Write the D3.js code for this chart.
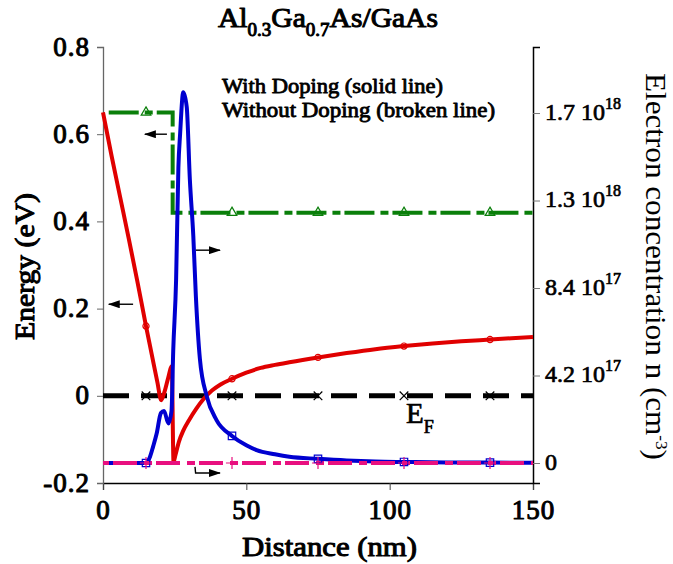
<!DOCTYPE html>
<html>
<head>
<meta charset="utf-8">
<script src="https://cdn.jsdelivr.net/npm/d3@7"></script>
<style>
  body { margin: 0; background: #fff; }
</style>
</head>
<body>
<svg id="chart" width="673" height="564" font-family="'Liberation Serif', serif"></svg>
<script>
// distance (nm) and values
const dopedX = [0, 3, 6, 9, 12, 15, 17, 19, 20.3, 21.5, 22.7, 24.0, 24.6, 25.3, 26.5, 28, 30, 32.5, 35, 38, 41, 45, 50, 55, 60, 65, 75, 85, 95, 105, 115, 125, 135, 150];
const dopedE = [0.65, 0.55, 0.455, 0.36, 0.262, 0.16, 0.095, 0.03, -0.01, 0.01, 0.04, 0.068, -0.152, -0.135, -0.105, -0.08, -0.056, -0.03, -0.008, 0.012, 0.026, 0.039, 0.053, 0.064, 0.071, 0.077, 0.088, 0.098, 0.107, 0.114, 0.12, 0.125, 0.129, 0.135];

// electron concentration with doping, units of 1e17 cm^-3
const dopedNX = [0, 15, 16.4, 17.5, 18.7, 20.2, 21.3, 22.8, 23.9, 24.5, 25.5, 26.3, 26.9, 28, 29.2, 30.3, 31.5, 32.4, 33.8, 36.2, 39.6, 45, 50, 53.6, 60, 65, 75, 85, 95, 105, 120, 135, 150];
const dopedN = [0, 0, 0.3, 0.8, 1.4, 2.4, 2.5, 1.9, 2.5, 5.4, 8.8, 14.2, 15.8, 17.8, 17.1, 13.6, 10.9, 8.0, 5.0, 3.2, 2.06, 1.3, 0.85, 0.62, 0.42, 0.3, 0.2, 0.12, 0.07, 0.05, 0.03, 0.02, 0.01];

const undopedX = [2, 15, 24.3, 24.3, 45, 75, 105, 135, 150];
const undopedE = [0.65, 0.65, 0.65, 0.42, 0.42, 0.42, 0.42, 0.42, 0.42];

const flatX = [0, 15, 45, 75, 105, 135, 150];
const fermiE = [0, 0, 0, 0, 0, 0, 0];
const undopedN = [0, 0, 0, 0, 0, 0, 0];

const markerX = [15, 45, 75, 105, 135];

const xTicks = [0, 50, 100, 150];
const leftTicks = [-0.2, 0, 0.2, 0.4, 0.6, 0.8];
const rightTicks = [0, 4.2, 8.4, 12.6, 16.8];
const rightTickLabels = [["0", ""], ["4.2 10", "17"], ["8.4 10", "17"], ["1.3 10", "18"], ["1.7 10", "18"]];

// arrows in (distance, energy) units
const arrows = [
  [[10.5, 0.21], [2.0, 0.21]],
  [[22.3, 0.6], [14.6, 0.6]],
  [[32.4, 0.334], [40.8, 0.334]],
  [[32.1, -0.163], [32.3, -0.177], [40.8, -0.177]]
];

const FONT = "'Liberation Serif', serif";
const svg = d3.select("#chart");
const x = d3.scaleLinear().domain([0, 150]).range([103, 533]);
const yL = d3.scaleLinear().domain([-0.2, 0.8]).range([483, 47]);
const yR = d3.scaleLinear().domain([-0.96, 19.97]).range([483, 47]);

// the bold face is not there, so thicken the regular one
function bold(sel, w) {
  return sel.attr("font-weight", "normal").attr("stroke", "#000").attr("stroke-width", w || 1.0)
    .attr("stroke-linejoin", "round");
}

const defs = svg.append("defs");
defs.append("marker")
  .attr("id", "head")
  .attr("viewBox", "0 0 12 8")
  .attr("refX", 11).attr("refY", 4)
  .attr("markerWidth", 12).attr("markerHeight", 8)
  .attr("markerUnits", "userSpaceOnUse")
  .attr("orient", "auto")
  .append("path").attr("d", "M0,0L12,4L0,8Z").attr("fill", "#000");

// axes
const gx = svg.append("g").attr("transform", "translate(0,483)")
  .call(d3.axisBottom(x).tickValues(xTicks).tickSize(7).tickFormat(d3.format("d")))
  .attr("font-family", FONT);
gx.select(".domain").attr("stroke", "#000").attr("stroke-width", 1.3);
gx.selectAll(".tick line").attr("stroke", "#444");
bold(gx.selectAll(".tick text").attr("font-size", 27).attr("dy", "0.97em").attr("fill", "#000")
  .attr("letter-spacing", 1));

const gl = svg.append("g").attr("transform", "translate(103,0)")
  .call(d3.axisLeft(yL).tickValues(leftTicks).tickSize(6)
    .tickFormat(d => d === 0 ? "0" : d3.format(".1f")(d).replace("\u2212", "-")))
  .attr("font-family", FONT);
gl.select(".domain").attr("stroke", "#666").attr("stroke-width", 1.3);
gl.selectAll(".tick line").attr("stroke", "#666");
bold(gl.selectAll(".tick text").attr("font-size", 27).attr("x", -13).attr("dy", "0.3em").attr("fill", "#000")
  .attr("letter-spacing", 1));

const gr = svg.append("g").attr("transform", "translate(533,0)")
  .call(d3.axisRight(yR).tickValues(rightTicks).tickSize(7).tickFormat(""))
  .attr("font-family", FONT);
gr.select(".domain").attr("stroke", "#000").attr("stroke-width", 1.5);
gr.selectAll(".tick line").attr("stroke", "#777");
gr.selectAll(".tick").each(function(d, i) {
  const t = d3.select(this).append("text")
    .attr("x", 12).attr("y", 6)
    .attr("font-size", 24)
    .attr("text-anchor", "start").attr("fill", "#000");
  bold(t, 0.7);
  t.append("tspan").text(rightTickLabels[i][0]);
  if (rightTickLabels[i][1]) {
    t.append("tspan").attr("font-size", 16).attr("dy", -11).text(rightTickLabels[i][1]);
  }
});

// curves
const lineL = (xs, ys, c) => d3.line().curve(c || d3.curveLinear).x((d, i) => x(xs[i])).y((d, i) => yL(ys[i]))(xs);
const lineR = (xs, ys, c) => d3.line().curve(c || d3.curveLinear).x((d, i) => x(xs[i])).y((d, i) => yR(ys[i]))(xs);

svg.append("path").attr("d", lineL(undopedX, undopedE))
  .attr("fill", "none").attr("stroke", "#0a7f0a").attr("stroke-width", 4)
  .attr("stroke-dasharray", "30,6,8,4");
svg.append("path").attr("d", lineL(flatX, fermiE))
  .attr("fill", "none").attr("stroke", "#000").attr("stroke-width", 5)
  .attr("stroke-dasharray", "26,12");
svg.append("path").attr("d", lineL(dopedX, dopedE, d3.curveMonotoneX))
  .attr("fill", "none").attr("stroke", "#e00000").attr("stroke-width", 4)
  .attr("stroke-linejoin", "round");
svg.append("path").attr("d", lineR(dopedNX, dopedN, d3.curveMonotoneX))
  .attr("fill", "none").attr("stroke", "#0000d0").attr("stroke-width", 4)
  .attr("stroke-linejoin", "round");
svg.append("path").attr("d", lineR(flatX, undopedN))
  .attr("fill", "none").attr("stroke", "#e8107f").attr("stroke-width", 4)
  .attr("stroke-dasharray", "24,7,8,4").attr("stroke-dashoffset", -10);

// markers at the data points
function pick(xs, ys) {
  return xs.map((v, i) => [v, ys[i]]).filter((p, i, arr) => markerX.includes(p[0]) &&
    arr.findIndex(q => q[0] === p[0]) === i);
}
const sym = (type, size) => d3.symbol().type(type).size(size)();
const timesType = d3.symbolTimes || d3.symbolCross;
const plusType = d3.symbolPlus || d3.symbolCross;

function drawMarkers(pts, scale, path, color) {
  svg.append("g").selectAll("path").data(pts).join("path")
    .attr("d", path)
    .attr("transform", d => `translate(${x(d[0])},${scale(d[1])})`)
    .attr("fill", "none").attr("stroke", color).attr("stroke-width", 1.2);
}
drawMarkers(pick(undopedX, undopedE), yL, sym(d3.symbolTriangle, 40), "#0a7f0a");
drawMarkers(pick(flatX, fermiE), yL, sym(timesType, 50), "#000");
drawMarkers(pick(dopedX, dopedE), yL, sym(d3.symbolCircle, 30), "#e00000");
drawMarkers(pick(dopedNX, dopedN), yR, sym(d3.symbolSquare, 55), "#0000d0");
drawMarkers(pick(flatX, undopedN), yR, sym(plusType, 50), "#e8107f");

// arrows
svg.append("g").selectAll("path").data(arrows).join("path")
  .attr("d", d => d3.line().x(p => x(p[0])).y(p => yL(p[1]))(d))
  .attr("fill", "none").attr("stroke", "#000").attr("stroke-width", 1.4)
  .attr("marker-end", "url(#head)");

// texts
const title = bold(svg.append("text").attr("x", 218).attr("y", 27).attr("font-size", 28)
  .attr("textLength", 220).attr("lengthAdjust", "spacingAndGlyphs"));
title.append("tspan").text("Al");
title.append("tspan").attr("font-size", 18).attr("dy", 9).text("0.3");
title.append("tspan").attr("dy", -9).text("Ga");
title.append("tspan").attr("font-size", 18).attr("dy", 9).text("0.7");
title.append("tspan").attr("dy", -9).text("As/GaAs");

bold(svg.append("text").attr("x", 222).attr("y", 93).attr("font-size", 20)
  .attr("textLength", 221).attr("lengthAdjust", "spacingAndGlyphs"), 0.8)
  .text("With Doping (solid line)");
bold(svg.append("text").attr("x", 222).attr("y", 117).attr("font-size", 20)
  .attr("textLength", 273).attr("lengthAdjust", "spacingAndGlyphs"), 0.8)
  .text("Without Doping (broken line)");

const ef = bold(svg.append("text").attr("x", 406).attr("y", 423).attr("font-size", 29), 0.7);
ef.append("tspan").text("E");
ef.append("tspan").attr("font-size", 18).attr("dy", 10).text("F");

bold(svg.append("text").attr("x", 242).attr("y", 556).attr("font-size", 27)
  .attr("textLength", 175).attr("lengthAdjust", "spacingAndGlyphs"))
  .text("Distance (nm)");

bold(svg.append("text").attr("transform", "translate(34,340) rotate(-90)").attr("font-size", 27)
  .attr("textLength", 147).attr("lengthAdjust", "spacingAndGlyphs"))
  .text("Energy (eV)");

const rt = svg.append("text").attr("transform", "translate(646,73) rotate(90)")
  .attr("font-size", 29).attr("textLength", 387).attr("lengthAdjust", "spacingAndGlyphs");
rt.append("tspan").text("Electron concentration n (cm");
rt.append("tspan").attr("font-size", 16).attr("dy", -10).text("-3");
rt.append("tspan").attr("dy", 10).text(")");
</script>
</body>
</html>
